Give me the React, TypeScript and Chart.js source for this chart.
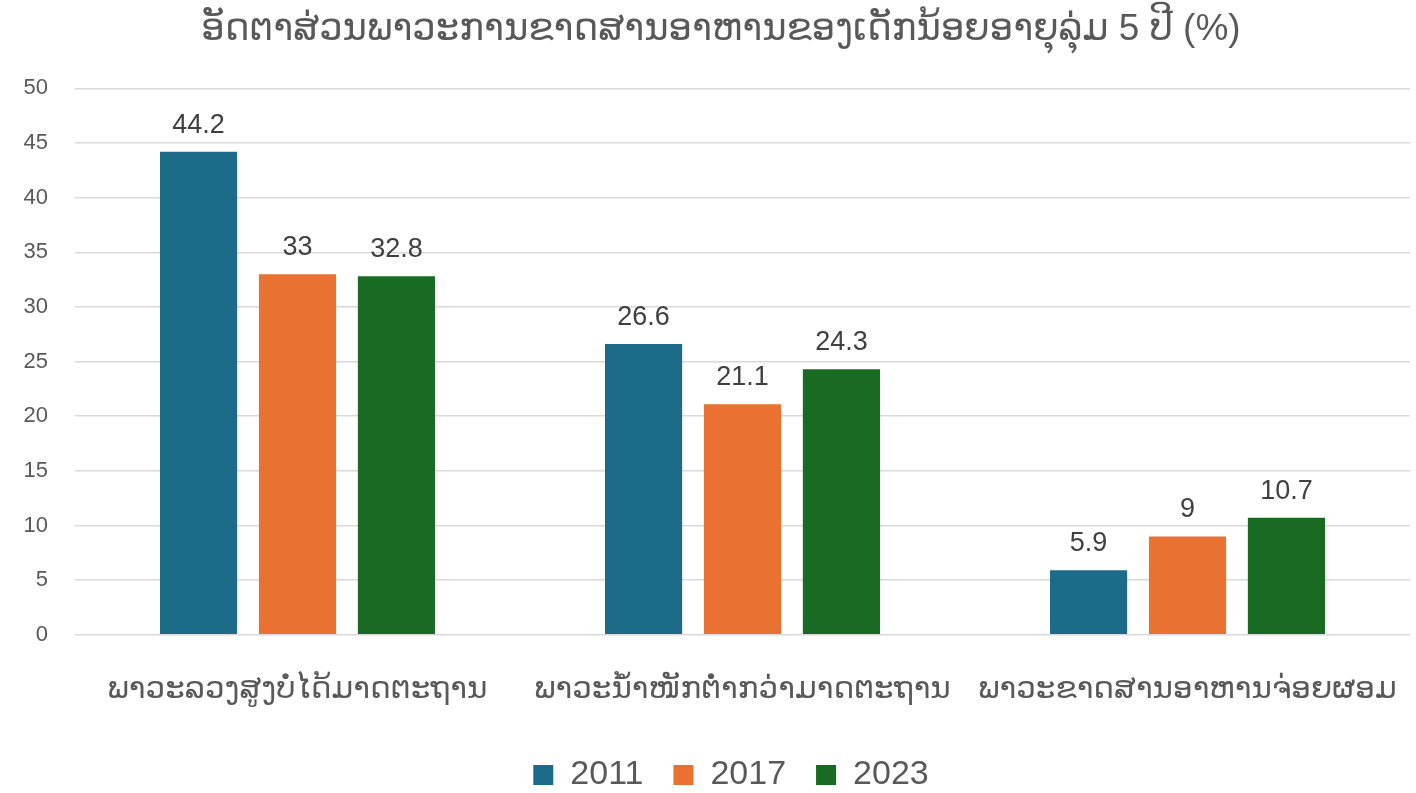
import React, { useEffect, useRef } from "react";
import { Chart, registerables } from "chart.js";

Chart.register(...registerables);

const categories = [
  "ພາວະລວງສູງບໍ່ໄດ້ມາດຕະຖານ",
  "ພາວະນ້ຳໜັກຕ່ຳກວ່າມາດຕະຖານ",
  "ພາວະຂາດສານອາຫານຈ່ອຍຜອມ",
];
const seriesNames = ["2011", "2017", "2023"];
const values2011 = [44.2, 26.6, 5.9];
const values2017 = [33, 21.1, 9];
const values2023 = [32.8, 24.3, 10.7];
const colors = ["#1B6B89", "#E97132", "#196B24"];
const title = "ອັດຕາສ່ວນພາວະການຂາດສານອາຫານຂອງເດັກນ້ອຍອາຍຸລຸ່ມ 5 ປີ (%)";

const FONT = "'Liberation Sans', 'DejaVu Sans', sans-serif";
const TEXT = "#595959";

const labelPlugin = {
  id: "valueLabels",
  afterLayout(chart: any) {
    if (chart.titleBlock) {
      chart.titleBlock.left += 16;
      chart.titleBlock.right += 16;
    }
    if (chart.legend) {
      chart.legend.left += 26;
      chart.legend.right += 26;
    }
  },
  afterDatasetsDraw(chart: any) {
    const ctx = chart.ctx;
    ctx.save();
    ctx.font = `27px ${FONT}`;
    ctx.fillStyle = "#404040";
    ctx.textAlign = "center";
    ctx.textBaseline = "alphabetic";
    chart.data.datasets.forEach((ds: any, i: number) => {
      const meta = chart.getDatasetMeta(i);
      meta.data.forEach((bar: any, j: number) => {
        ctx.fillText(String(ds.data[j]), bar.x, bar.y - 19);
      });
    });
    ctx.restore();
  },
};

export default function App() {
  const ref = useRef<HTMLCanvasElement>(null);
  useEffect(() => {
    if (!ref.current) return;
    const all = [values2011, values2017, values2023];
    const chart = new Chart(ref.current, {
      type: "bar",
      data: {
        labels: categories,
        datasets: seriesNames.map((n, i) => ({
          label: n,
          data: all[i],
          backgroundColor: colors[i],
          barPercentage: 0.78,
          categoryPercentage: 0.667,
        })),
      },
      options: {
        animation: false,
        responsive: false,
        maintainAspectRatio: false,
        layout: { padding: { left: 0, right: 6, top: 6, bottom: -9 } },
        plugins: {
          title: {
            display: true,
            text: title,
            color: TEXT,
            font: { family: FONT, size: 37, weight: "normal" },
            padding: { top: 2, bottom: 36 },
          },
          legend: {
            position: "bottom",
            labels: {
              color: TEXT,
              font: { family: FONT, size: 34 },
              boxWidth: 20,
              boxHeight: 20,
              padding: 30,
            },
          },
          tooltip: { enabled: false },
        },
        scales: {
          x: {
            grid: { display: false },
            border: { display: false },
            afterFit: (s: any) => {
              s.height -= 8;
              s.paddingLeft = 0;
              s.paddingRight = 0;
            },
            ticks: {
              color: TEXT,
              font: { family: FONT, size: 31 },
              padding: 28,
              maxRotation: 0,
              autoSkip: false,
            },
          },
          y: {
            min: 0,
            max: 50,
            afterFit: (s: any) => {
              s.width = 75;
            },
            ticks: {
              stepSize: 5,
              color: TEXT,
              font: { family: FONT, size: 22 },
              padding: 27,
            },
            grid: { color: "#D9D9D9", lineWidth: 1.5, drawTicks: false },
            border: { display: false },
          },
        },
      },
      plugins: [labelPlugin],
    });
    return () => chart.destroy();
  }, []);
  return (
    <div style={{ position: "fixed", left: 0, top: 0, width: 1416, height: 793, background: "#fff" }}>
      <canvas ref={ref} width={1416} height={793} />
    </div>
  );
}
